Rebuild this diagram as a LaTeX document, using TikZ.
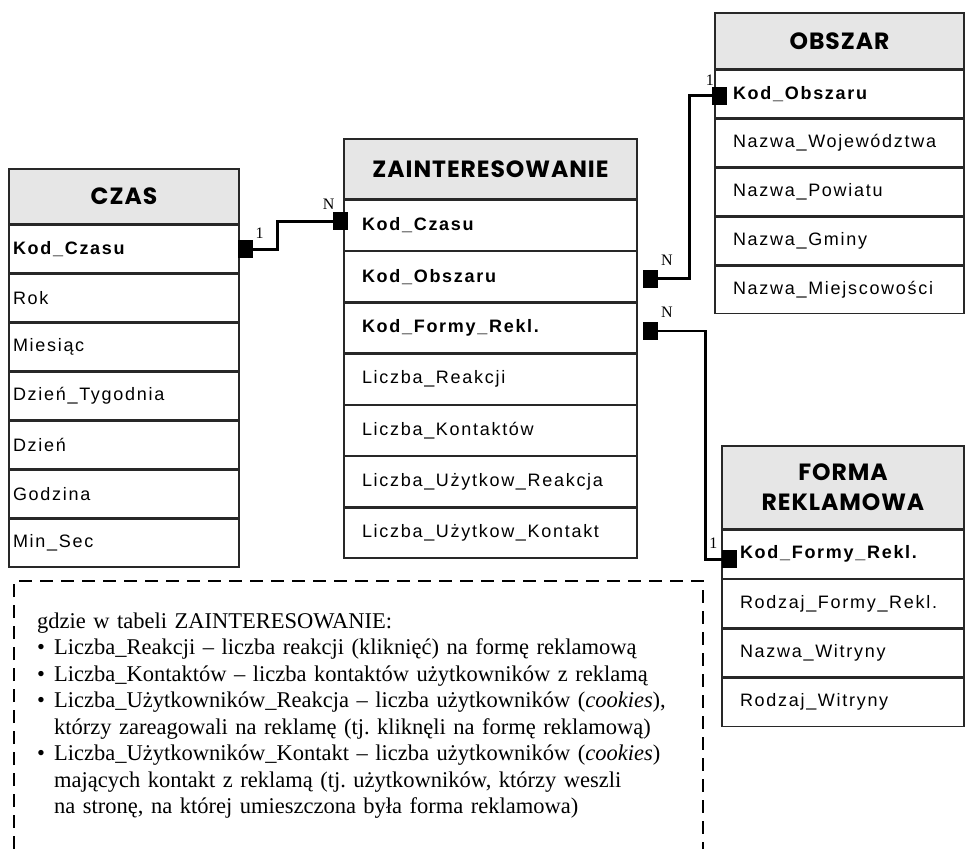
\documentclass[tikz,border=0pt]{standalone}
\usepackage{fontspec}
\setmainfont{Liberation Serif}
\newfontfamily\fldfont[LetterSpace=9.5]{Liberation Sans}
\newfontfamily\hdrfont[LetterSpace=4]{Poppins}
\usetikzlibrary{positioning}
\definecolor{hdrgray}{RGB}{230,230,230}
\definecolor{tabline}{RGB}{40,40,40}
\hyphenpenalty=10000
\frenchspacing
\newcommand{\bul}{\makebox[17pt][l]{\textbullet}}

\begin{document}
\begin{tikzpicture}[x=1pt, y=-1pt,
  tabhead/.style={draw=tabline, line width=1.3pt, fill=hdrgray, inner sep=0pt,
                  align=center, font=\hdrfont\bfseries\fontsize{23.5}{30}\selectfont},
  tabrow/.style={draw=tabline, line width=1.3pt, fill=white, inner ysep=0pt,
                 align=left, font=\fldfont\fontsize{18}{21}\selectfont},
  key/.style={fill=black, minimum width=15, minimum height=18, inner sep=0pt},
  card/.style={font=\fontsize{16}{16}\selectfont, inner sep=1pt},
  link/.style={line width=2.8pt, line join=miter},
]
\useasboundingbox (0,0) rectangle (967,849);

% CZAS
\node[tabhead, minimum width=230, minimum height=55] (czas) at (124,196.5) {CZAS};
\node[tabrow, text width=222, inner xsep=4, minimum height=47.7, below=0pt of czas] (czKod) {\bfseries Kod\_Czasu};
\node[tabrow, text width=222, inner xsep=4, minimum height=47.7, below=0pt of czKod] (czRok) {Rok};
\node[tabrow, text width=222, inner xsep=4, minimum height=47.7, below=0pt of czRok] (czMies) {Miesiąc};
\node[tabrow, text width=222, inner xsep=4, minimum height=47.7, below=0pt of czMies] (czDtyg) {Dzień\_Tygodnia};
\node[tabrow, text width=222, inner xsep=4, minimum height=47.7, below=0pt of czDtyg] (czDzien) {Dzień};
\node[tabrow, text width=222, inner xsep=4, minimum height=47.7, below=0pt of czDzien] (czGodz) {Godzina};
\node[tabrow, text width=222, inner xsep=4, minimum height=47.7, below=0pt of czGodz] (czMin) {Min\_Sec};

% ZAINTERESOWANIE
\node[tabhead, minimum width=293, minimum height=60] (zain) at (490.5,169) {ZAINTERESOWANIE};
\node[tabrow, text width=257, inner xsep=18, minimum height=50, below=0pt of zain] (zaCz) {\bfseries Kod\_Czasu};
\node[tabrow, text width=257, inner xsep=18, minimum height=50, below=0pt of zaCz] (zaOb) {\bfseries Kod\_Obszaru};
\node[tabrow, text width=257, inner xsep=18, minimum height=50, below=0pt of zaOb] (zaFr) {\bfseries Kod\_Formy\_Rekl.};
\node[tabrow, text width=257, inner xsep=18, minimum height=50, below=0pt of zaFr] (zaReak) {Liczba\_Reakcji};
\node[tabrow, text width=257, inner xsep=18, minimum height=50, below=0pt of zaReak] (zaKont) {Liczba\_Kontaktów};
\node[tabrow, text width=257, inner xsep=18, minimum height=50, below=0pt of zaKont] (zaUReak) {Liczba\_Użytkow\_Reakcja};
\node[tabrow, text width=257, inner xsep=18, minimum height=50, below=0pt of zaUReak] (zaUKont) {Liczba\_Użytkow\_Kontakt};

% OBSZAR
\node[tabhead, minimum width=249, minimum height=56] (obsz) at (839.5,41) {OBSZAR};
\node[tabrow, text width=213, inner xsep=18, minimum height=47.6, below=0pt of obsz] (obKod) {\bfseries Kod\_Obszaru};
\node[tabrow, text width=213, inner xsep=18, minimum height=47.6, below=0pt of obKod] (obWoj) {Nazwa\_Województwa};
\node[tabrow, text width=213, inner xsep=18, minimum height=47.6, below=0pt of obWoj] (obPow) {Nazwa\_Powiatu};
\node[tabrow, text width=213, inner xsep=18, minimum height=47.6, below=0pt of obPow] (obGm) {Nazwa\_Gminy};
\node[tabrow, text width=213, inner xsep=18, minimum height=47.6, below=0pt of obGm] (obMiej) {Nazwa\_Miejscowości};

% FORMA REKLAMOWA
\node[tabhead, minimum width=242, minimum height=83] (forma) at (843,487.5) {FORMA\\REKLAMOWA};
\node[tabrow, text width=206, inner xsep=18, minimum height=48, below=0pt of forma] (frKod) {\bfseries Kod\_Formy\_Rekl.};
\node[tabrow, text width=206, inner xsep=18, minimum height=48, below=0pt of frKod] (frRodz) {Rodzaj\_Formy\_Rekl.};
\node[tabrow, text width=206, inner xsep=18, minimum height=48, below=0pt of frRodz] (frWitr) {Nazwa\_Witryny};
\node[tabrow, text width=206, inner xsep=18, minimum height=48, below=0pt of frWitr] (frRwit) {Rodzaj\_Witryny};

% Key ends
\node[key] (sqCz) at ([xshift=6pt]czKod.east) {};
\node[key] (sqZc) at ([xshift=-3pt, yshift=4pt]zaCz.west) {};
\node[key] (sqZo) at ([xshift=12.5pt, yshift=-2pt]zaOb.east) {};
\node[key] (sqZf) at ([xshift=12.5pt, yshift=-3pt]zaFr.east) {};
\node[key] (sqOb) at ([xshift=5.5pt, yshift=-1.5pt]obKod.west) {};
\node[key] (sqFr) at ([xshift=8pt, yshift=-5pt]frKod.west) {};

% Relationships
\draw[link] (sqCz.east) -- ++(24,0) |- (sqZc.west);
\draw[link] (sqZo.east) -- ++(32,0) |- (sqOb.west);
\draw[link] (sqZf.east) -- ++(48,0) |- (sqFr.west);

\node[card, anchor=south west] (c1) at ([xshift=1pt]sqCz.north east) {1};
\node[card, anchor=south east] (cN1) at ([xshift=3pt, yshift=1pt]sqZc.north west) {N};
\node[card, anchor=south west] (cN2) at ([xshift=2pt, yshift=3pt]sqZo.north east) {N};
\node[card, anchor=south west] (cN3) at ([xshift=2pt, yshift=3pt]sqZf.north east) {N};
\node[card, anchor=south east] (c2) at ([xshift=3pt]sqOb.north west) {1};
\node[card, anchor=south east] (c3) at ([xshift=-3pt]sqFr.north west) {1};

% Explanation
\draw[line width=1.5pt, dash pattern=on 13pt off 8pt] (14,849) |- (703,581) -- (703,849);
\node[anchor=north west, inner sep=0pt, text width=665, align=left,
      font=\fontsize{22.5}{26.5}\selectfont] (note) at (37,612.5)
{gdzie w tabeli ZAINTERESOWANIE:\\
\bul Liczba\_Reakcji -- liczba reakcji (kliknięć) na formę reklamową\\
\bul Liczba\_Kontaktów -- liczba kontaktów użytkowników z reklamą\\
\bul Liczba\_Użytkowników\_Reakcja -- liczba użytkowników (\textit{cookies}),\\
\hspace*{17pt}którzy zareagowali na reklamę (tj. kliknęli na formę reklamową)\\
\bul Liczba\_Użytkowników\_Kontakt -- liczba użytkowników (\textit{cookies})\\
\hspace*{17pt}mających kontakt z reklamą (tj. użytkowników, którzy weszli\\
\hspace*{17pt}na stronę, na której umieszczona była forma reklamowa)};
\end{tikzpicture}
\end{document}
